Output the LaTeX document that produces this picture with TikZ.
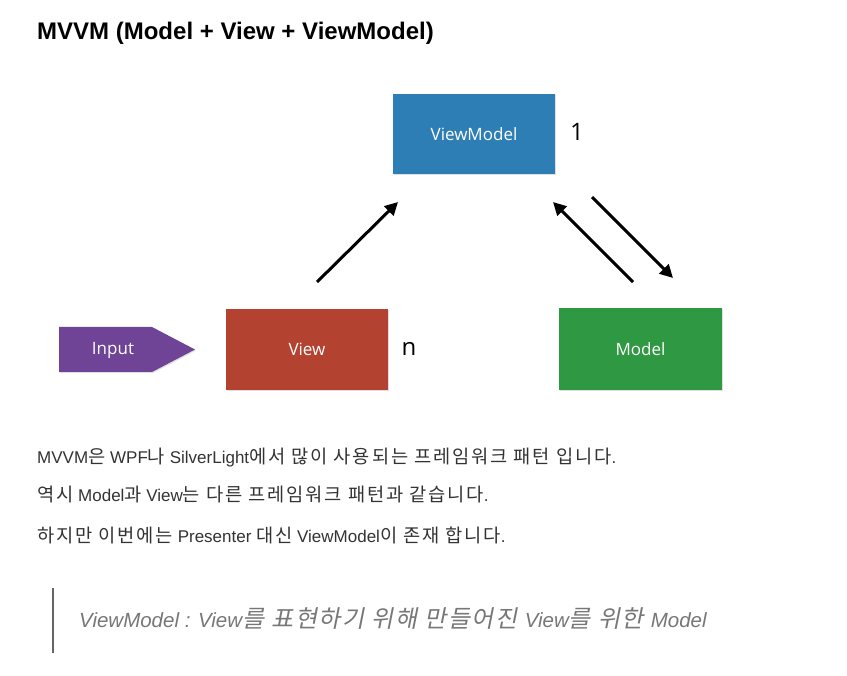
\documentclass[tikz,border=0pt]{standalone}
\usepackage{fontspec}
\setmainfont{Liberation Sans}
\newfontfamily\krf[Scale=1.1,LetterSpace=10]{Noto Sans CJK KR}
\newfontfamily\krfi[Scale=1.17,LetterSpace=7,FakeSlant=0.2]{Noto Sans CJK KR}
\newfontfamily\boxf{Open Sans}
\usetikzlibrary{arrows.meta,shadows}
\definecolor{vmblue}{RGB}{46,126,182}
\definecolor{vred}{RGB}{180,66,48}
\definecolor{mgreen}{RGB}{46,152,66}
\definecolor{inpurple}{RGB}{111,68,150}
\definecolor{bodytext}{RGB}{51,51,51}
\definecolor{quotetext}{RGB}{119,119,119}
\definecolor{quotebar}{RGB}{102,102,102}
\tikzset{
  box/.style={inner sep=0pt, text=white, font=\boxf\fontsize{17}{17}\selectfont,
    drop shadow={opacity=0.25, shadow xshift=0.6pt, shadow yshift=-1.2pt}},
  conn/.style={line width=3pt, -{Triangle[length=13pt,width=13pt]}},
  mult/.style={font=\boxf\fontsize{24}{24}\selectfont, text=black},
  body/.style={anchor=base west, inner sep=0pt, text=bodytext, font=\fontsize{17}{17}\selectfont},
}
\begin{document}
\begin{tikzpicture}[x=1pt,y=-1pt]
\path[use as bounding box, fill=white] (0,0) rectangle (847,676);
% title
\node[anchor=base west, inner sep=0pt, font=\bfseries\fontsize{24}{24}\selectfont] (title) at (37,40) {MVVM (Model + View + ViewModel)};
% boxes
\node[box, fill=vmblue, minimum width=162pt, minimum height=80pt] (vm) at (474,134) {ViewModel};
\node[box, fill=vred, minimum width=162pt, minimum height=81pt] (view) at (307,349.5) {View};
\node[box, fill=mgreen, minimum width=163pt, minimum height=82pt] (model) at (640.5,349) {Model};
\fill[inpurple, drop shadow={opacity=0.25, shadow xshift=0.6pt, shadow yshift=-1.2pt}] (59,327) -- (152,327) -- (195,349.5) -- (152,372) -- (59,372) -- cycle;
\node[inner sep=0pt, text=white, font=\boxf\fontsize{17}{17}\selectfont] (input) at (113,350) {Input};
\node[mult] (one) at (577,132) {1};
\node[mult] (n) at (409,349) {n};
% connectors
\coordinate (a1s) at (317,282); \coordinate (a1e) at (398,202);
\coordinate (a2s) at (633,282); \coordinate (a2e) at (553,202);
\coordinate (a3s) at (592,197); \coordinate (a3e) at (673,278);
\draw[conn] (a1s) -- (a1e);
\draw[conn] (a2s) -- (a2e);
\draw[conn] (a3s) -- (a3e);
% body text
\node[body] (l1) at (37,464) {MVVM{\krf 은} WPF{\krf 나} SilverLight{\krf 에서 많이 사용되는 프레임워크 패턴 입니다}.};
\node[body] (l2) at (37,502) {{\krf 역시} Model{\krf 과} View{\krf 는 다른 프레임워크 패턴과 같습니다}.};
\node[body] (l3) at (37,543) {{\krf 하지만 이번에는} Presenter {\krf 대신} ViewModel{\krf 이 존재 합니다}.};
% quote
\draw[quotebar, line width=2.5pt] (53,588) -- (53,653);
\node[anchor=base west, inner sep=0pt, text=quotetext, font=\itshape\fontsize{20.5}{20.5}\selectfont] (q) at (79,627) {ViewModel : View{\krfi 를 표현하기 위해 만들어진 }View{\krfi 를 위한 }Model};
\end{tikzpicture}
\end{document}
